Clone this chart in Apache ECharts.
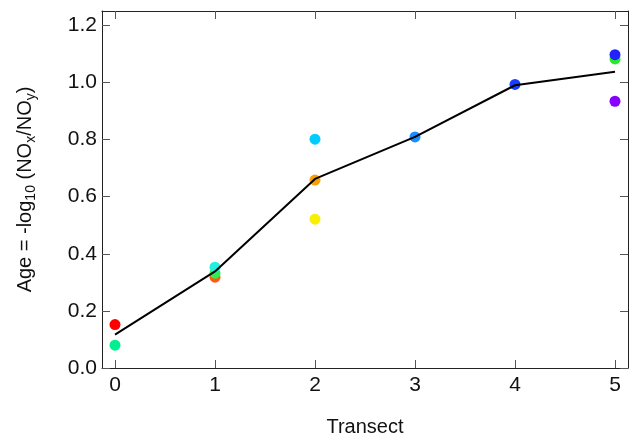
<!DOCTYPE html>
<html>
<head>
<meta charset="utf-8">
<script src="https://cdn.jsdelivr.net/npm/echarts@6/dist/echarts.min.js"></script>
<style>html,body{margin:0;padding:0;background:#fff;}#chart{width:629px;height:442px;}</style>
</head>
<body>
<div id="chart"></div>
<script>
// Data
const transects = [0, 1, 2, 3, 4, 5];
const meanAge = [0.117, 0.338, 0.662, 0.809, 0.990, 1.037];
const pointTransect = [0, 0, 1, 1, 1, 2, 2, 2, 3, 4, 5, 5, 5];
const pointAge = [0.152, 0.080, 0.318, 0.332, 0.353, 0.801, 0.658, 0.521, 0.809, 0.993, 1.082, 1.097, 0.934];
const pointColors = ['#ff0000', '#00f090', '#ff5a14', '#30ee50', '#20f0e0', '#00ccff', '#f8a000', '#f8f000', '#1a8cff', '#1a3cff', '#22ee22', '#2222ff', '#8800ff'];
const xTickLabels = [0, 1, 2, 3, 4, 5];
const yTickLabels = [0, 0.2, 0.4, 0.6, 0.8, 1.0, 1.2];

const font = 'Liberation Sans, Arial, sans-serif';
const chart = echarts.init(document.getElementById('chart'));

const scatterData = pointTransect.map((x, i) => ({
  value: [x, pointAge[i]],
  itemStyle: { color: pointColors[i], opacity: 1 }
}));
const lineData = transects.map((x, i) => [x, meanAge[i]]);

const xBase = { type: 'value', min: -0.13, max: 5.13, splitLine: { show: false } };
const yBase = { type: 'value', min: 0, max: 1.25, splitLine: { show: false } };
const axisLine = { show: true, onZero: false, lineStyle: { color: '#222', width: 1 } };
const tick = (vals) => ({ show: true, inside: true, length: 8, customValues: vals, lineStyle: { color: '#555', width: 1 } });

chart.setOption({
  animation: false,
  grid: { left: 102, right: 1, top: 11, bottom: 69, containLabel: false },
  xAxis: [
    Object.assign({}, xBase, {
      position: 'bottom',
      axisLine: axisLine,
      axisTick: tick(xTickLabels),
      axisLabel: { customValues: xTickLabels, margin: 7, fontFamily: font, fontSize: 21, color: '#111' },
      name: 'Transect', nameLocation: 'middle', nameGap: 49,
      nameTextStyle: { fontFamily: font, fontSize: 20, color: '#111' }
    }),
    Object.assign({}, xBase, {
      position: 'top',
      axisLine: axisLine,
      axisTick: tick(xTickLabels),
      axisLabel: { show: false }
    })
  ],
  yAxis: [
    Object.assign({}, yBase, {
      position: 'left',
      axisLine: axisLine,
      axisTick: tick(yTickLabels),
      axisLabel: { customValues: yTickLabels, margin: 5, fontFamily: font, fontSize: 21, color: '#111',
        formatter: v => v.toFixed(1) },
      name: '{m|Age = -log}{s|10}{m| (NO}{s|x}{m|/NO}{s|y}{m|)}',
      nameLocation: 'middle', nameGap: 64, nameRotate: 90,
      nameTextStyle: {
        fontFamily: font, fontSize: 20, color: '#111',
        rich: {
          m: { fontFamily: font, fontSize: 20, color: '#111', lineHeight: 26, verticalAlign: 'middle' },
          s: { fontFamily: font, fontSize: 14, color: '#111', lineHeight: 14, verticalAlign: 'bottom' }
        }
      }
    }),
    Object.assign({}, yBase, {
      position: 'right',
      axisLine: axisLine,
      axisTick: tick(yTickLabels),
      axisLabel: { show: false }
    })
  ],
  series: [
    {
      type: 'scatter', xAxisIndex: 0, yAxisIndex: 0,
      symbol: 'circle', symbolSize: 11, data: scatterData, z: 2
    },
    {
      type: 'line', xAxisIndex: 0, yAxisIndex: 0,
      data: lineData, showSymbol: false, symbol: 'none',
      lineStyle: { color: '#000', width: 2 }, z: 3
    }
  ]
});
</script>
</body>
</html>
